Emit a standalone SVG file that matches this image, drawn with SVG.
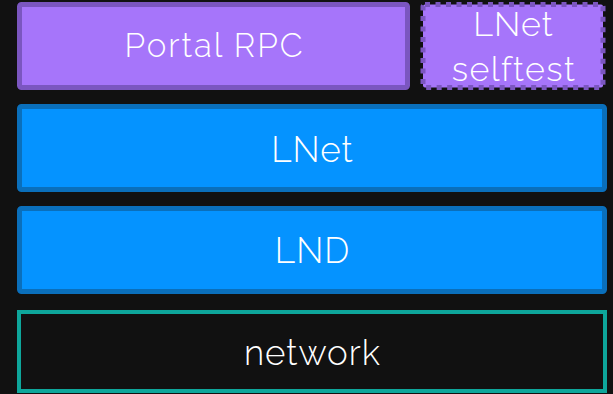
<svg xmlns="http://www.w3.org/2000/svg" width="613" height="394" viewBox="0 0 613 394">
  <style>
    .lbl { font-family: Raleway, Lato, "Open Sans", "Liberation Sans", sans-serif; font-weight: 300; fill: #ffffff; text-anchor: middle; }
    .purple { fill: #a675fa; stroke: #7b56c0; stroke-width: 5; }
    .blue { fill: #0593ff; stroke: #0a6fbb; stroke-width: 5; }
    .net { fill: #111111; stroke: #0ea69b; stroke-width: 4; }
  </style>
  <rect width="613" height="394" fill="#111111"/>
  <g id="portal-rpc">
    <rect class="purple" x="19.5" y="4.5" width="388" height="83" rx="2"/>
    <text class="lbl" x="214.5" y="57" font-size="33" letter-spacing="2">Portal RPC</text>
  </g>
  <g id="lnet-selftest">
    <rect class="purple" x="423" y="4.5" width="180" height="83" rx="2" stroke-dasharray="5 5.5"/>
    <text class="lbl" x="513.5" y="36" font-size="34" letter-spacing="1">LNet</text>
    <text class="lbl" x="514" y="81" font-size="34" letter-spacing="1.4">selftest</text>
  </g>
  <g id="lnet">
    <rect class="blue" x="19.5" y="106.5" width="585" height="83" rx="2"/>
    <text class="lbl" x="312.5" y="162" font-size="35" letter-spacing="1">LNet</text>
  </g>
  <g id="lnd">
    <rect class="blue" x="19.5" y="208.5" width="585" height="83" rx="2"/>
    <text class="lbl" x="312.5" y="263" font-size="35" letter-spacing="1">LND</text>
  </g>
  <g id="network">
    <rect class="net" x="19" y="312" width="586" height="79"/>
    <text class="lbl" x="312.5" y="365" font-size="35" letter-spacing="1">network</text>
  </g>
  <g id="connectors"/>
</svg>
